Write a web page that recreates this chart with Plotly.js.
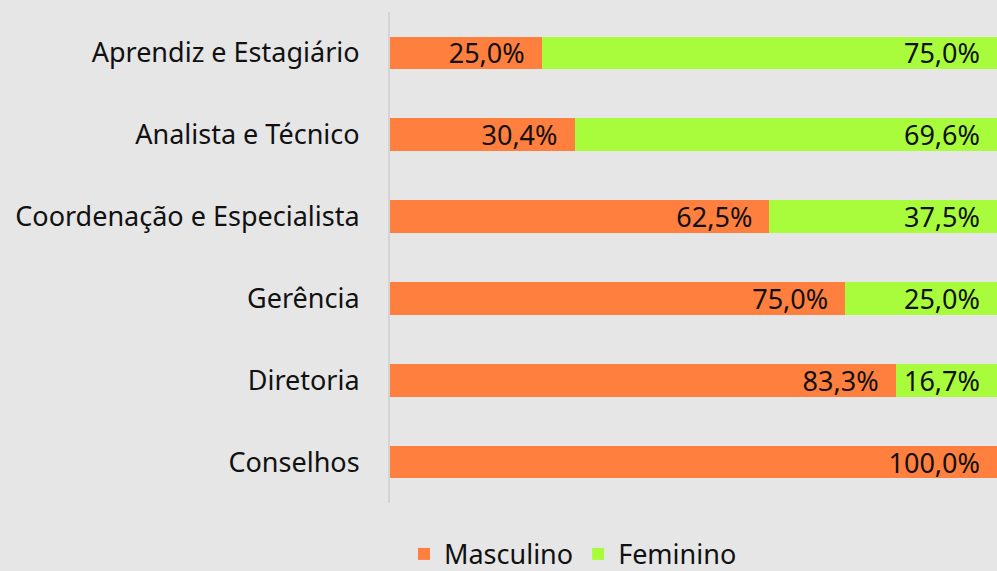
<!DOCTYPE html>
<html><head><meta charset="utf-8">
<script src="https://cdn.plot.ly/plotly-3.0.1.min.js"></script>
<style>html,body{margin:0;padding:0;background:#e6e6e6;overflow:hidden}</style>
</head><body><div id="chart" style="width:997px;height:571px"></div>
<script>
const categories = ["Aprendiz e Estagiário","Analista e Técnico","Coordenação e Especialista","Gerência","Diretoria","Conselhos"];
const masculino = [25.0, 30.4, 62.5, 75.0, 83.3, 100.0];
const feminino = [75.0, 69.6, 37.5, 25.0, 16.7, 0.0];
const font = {family: "Noto Sans, Open Sans, sans-serif", size: 27, color: "#111"};
const common = {type: "bar", orientation: "h", y: categories, textposition: "inside", insidetextanchor: "end",
  texttemplate: "%{x:.1f}%\u00a0\u00a0", textfont: font, insidetextfont: font, constraintext: "none", cliponaxis: false};
const data = [
  Object.assign({}, common, {name: "Masculino", x: masculino, marker: {color: "#ff7f3f"}}),
  Object.assign({}, common, {name: "Feminino", x: feminino, marker: {color: "#a8fc3c"}})
];
const layout = {
  barmode: "stack", bargap: 0.6, separators: ",.",
  paper_bgcolor: "#e6e6e6", plot_bgcolor: "#e6e6e6",
  margin: {l: 390, r: 0, t: 12, b: 68, autoexpand: false},
  font: font,
  xaxis: {range: [0, 100], showgrid: false, zeroline: false, showticklabels: false, fixedrange: true},
  yaxis: {autorange: "reversed", showline: true, linecolor: "#d4d4d4", linewidth: 2, ticks: "", ticklabelstandoff: 23, tickfont: font, automargin: false},
  legend: {orientation: "h", x: 0.023, xanchor: "left", yref: "container", y: 0.072, yanchor: "top", font: font, traceorder: "normal"},
  showlegend: true
};
Plotly.newPlot("chart", data, layout, {staticPlot: true});
</script></body></html>
